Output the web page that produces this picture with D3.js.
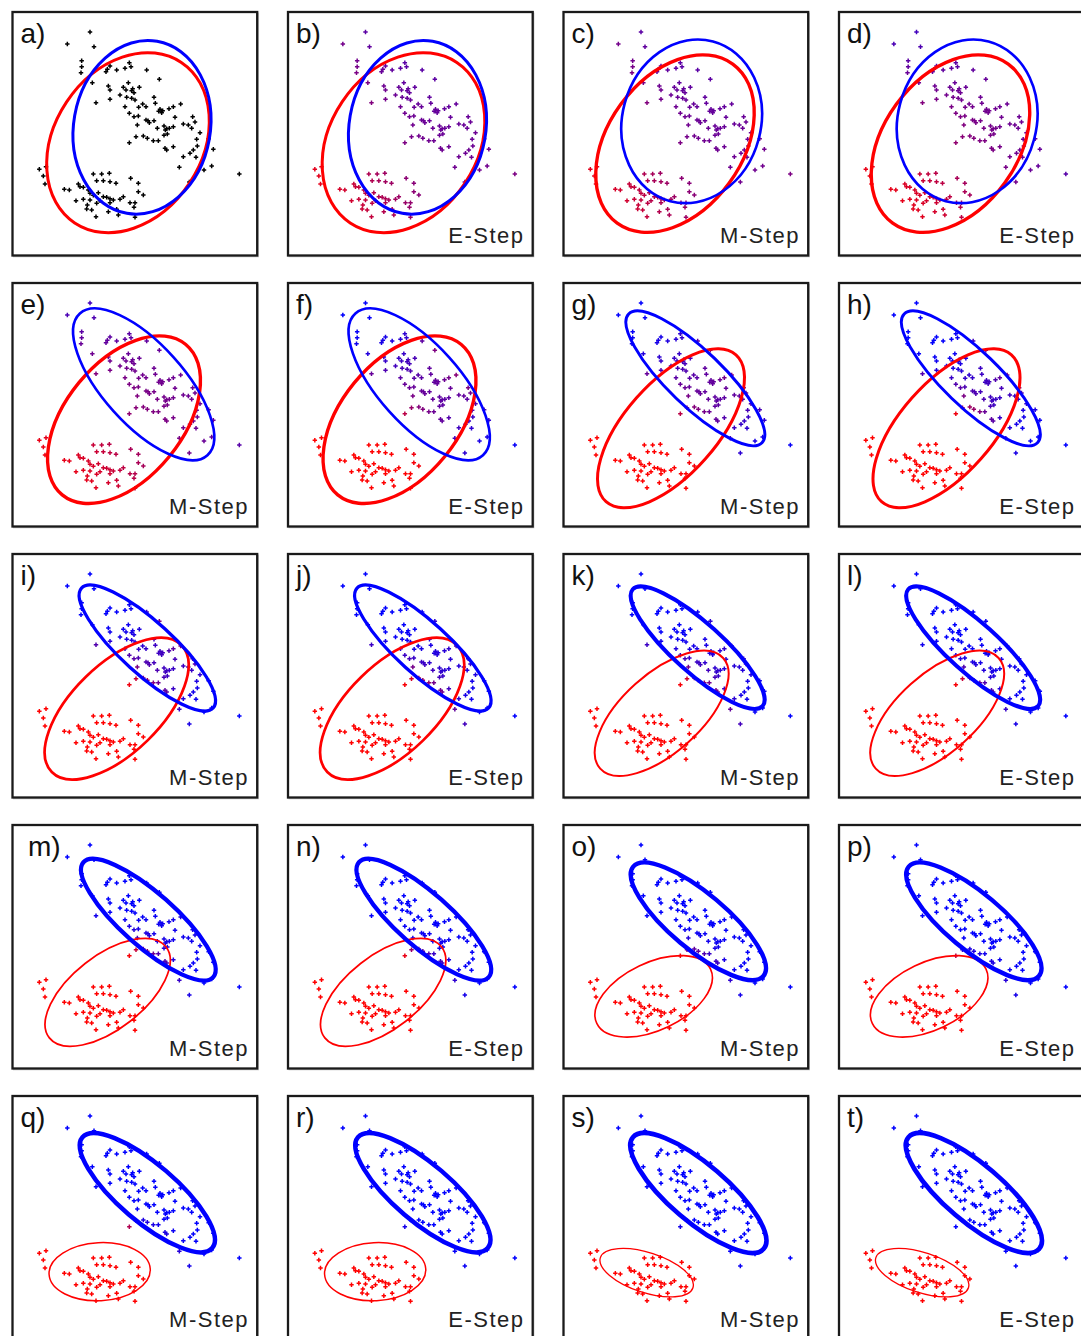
<!DOCTYPE html>
<html>
<head>
<meta charset="utf-8">
<script src="https://cdn.jsdelivr.net/npm/d3@7"></script>
<style>
  body { margin: 0; background: #fff; }
  svg { display: block; }
</style>
</head>
<body>
<div id="container"></div>
<script>
//_____ DATA _____
//>>> Observations (same in every panel), in panel units 0-750 x 0-744
const points = [
  [240,66],[172,102],[252,110],[215,152],[215,170],[213,188],[247,218],
  [288,185],[292,178],[300,168],[320,180],[345,175],[358,158],[363,170],[410,180],[448,208],
  [258,278],[295,228],[300,240],[355,218],[340,232],[348,240],[365,242],[368,236],[372,248],[388,232],
  [330,255],[350,262],[300,268],[365,265],[375,270],[398,282],[386,292],[408,290],[432,262],[436,280],
  [450,298],[455,308],[458,302],[446,304],[477,296],[490,290],[512,282],
  [345,290],[358,310],[372,320],[385,318],[408,330],[418,338],[414,332],[432,332],[442,355],[462,348],
  [466,360],[472,372],[470,356],[478,355],[490,350],[495,322],[520,342],[535,345],[548,320],[555,336],
  [382,345],[378,380],[400,378],[412,385],[430,392],[445,392],[462,376],[358,398],
  [465,415],[470,420],[490,410],[520,440],[540,430],[550,420],[558,442],[562,408],[560,388],[570,368],
  [545,355],[596,386],[610,418],[605,468],[582,480],[508,472],[688,492],[538,516],
  [88,478],[108,470],[100,498],[105,522],[163,538],[178,540],[205,522],[210,530],[220,532],[235,540],
  [250,492],[275,492],[298,490],[280,512],[260,512],[300,515],[318,520],[240,550],[250,556],[265,548],
  [280,560],[290,562],[300,566],[310,570],[330,568],[340,560],[362,505],[385,520],[385,545],[400,555],
  [198,572],[220,568],[240,570],[232,585],[230,597],[245,600],[260,580],[270,572],[300,578],[295,605],
  [320,598],[325,615],[360,578],[375,578],[372,592],[258,620],[375,622]
];

//>>> Panel letters and step names
const panelLetters = [ 'a', 'b', 'c', 'd', 'e', 'f', 'g', 'h', 'i', 'j',
  'k', 'l', 'm', 'n', 'o', 'p', 'q', 'r', 's', 't' ];
const stepLabels = [ '', 'E-Step', 'M-Step', 'E-Step', 'M-Step', 'E-Step', 'M-Step', 'E-Step',
  'M-Step', 'E-Step', 'M-Step', 'E-Step', 'M-Step', 'E-Step', 'M-Step', 'E-Step',
  'M-Step', 'E-Step', 'M-Step', 'E-Step' ];

//>>> Gaussian components after each M-step: [cx, cy, rx, ry, angle]
const redEllipses = [
  [354,398,289,221,-56.4],[342,401,295,201,-54],[342,416,292,175,-50.6],[330,442,294,138,-48.5],
  [320,470,272,133,-44.3],[302,484,248,118,-42],[293,508,222,110,-38],[278,520,189,101,-25.5],
  [269,533,152,87,-3],[257,536,146,60,18]
];
const blueEllipses = [
  [396,352,262,205,-80],[392,334,248,208,-75],[401,310,286,121,48],[403,292,278,83,44],
  [412,288,267,78,42.3],[410,287,262,74,42],[415,290,260,80,41.5],[412,295,255,84,40],
  [412,296,256,86,40.5],[412,297,258,86,40.5]
];
//>>> Mixing weight of the red component
const redWeights = [ 0.5, 0.56, 0.56, 0.5, 0.45, 0.33, 0.29, 0.27, 0.25, 0.22 ];


//_____ LAYOUT _____
const width = 1081;
const height = 1336;
const colStep = 275.5;
const rowStep = 271;
const fontFamily = '"Liberation Sans", Arial, sans-serif';

const x = d3.scaleLinear().domain( [ 0, 750 ] ).range( [ 0, 250 ] );
const y = d3.scaleLinear().domain( [ 0, 744 ] ).range( [ 0, 248 ] );
const strokeScale = d3.scaleLinear().domain( [ 0, 1 ] ).range( [ 0, 6 ] );

const svg = d3.select( '#container' )
  .append( 'svg' )
  .attr( 'width', width )
  .attr( 'height', height );

svg.append( 'rect' )
  .attr( 'width', width )
  .attr( 'height', height )
  .attr( 'fill', '#fff' );


//_____ HELPERS _____
//>>> Gaussian density (ellipse = 2 sigma contour)
function density ( p, e, w ) {
  const t = e[ 4 ] * Math.PI / 180;
  const dx = p[ 0 ] - e[ 0 ], dy = p[ 1 ] - e[ 1 ];
  const u = ( dx * Math.cos( t ) + dy * Math.sin( t ) ) / e[ 2 ];
  const v = ( -dx * Math.sin( t ) + dy * Math.cos( t ) ) / e[ 3 ];
  return w / ( e[ 2 ] * e[ 3 ] ) * Math.exp( -2 * ( u * u + v * v ) );
}

function pointColor ( p, k ) {
  const pr = density( p, redEllipses[ k ], redWeights[ k ] );
  const pb = density( p, blueEllipses[ k ], 1 - redWeights[ k ] );
  const r = pr / ( pr + pb );
  return d3.rgb( 255 * r, 0, 255 * ( 1 - r ) ).formatHex();
}

const symbol = d3.symbol().type( d3.symbolCross ).size( 11 );


//_____ PANELS _____
panelLetters.forEach( ( letter, i ) => {
  const col = i % 4;
  const row = Math.floor( i / 4 );
  const g = svg.append( 'g' )
    .attr( 'transform', `translate( ${10 + col * colStep}, ${10 + row * rowStep} )` );

  //>>> Frame
  g.append( 'rect' )
    .attr( 'x', 3.6 ).attr( 'y', 3.2 )
    .attr( 'width', 244.7 ).attr( 'height', 243.5 )
    .attr( 'fill', 'none' )
    .attr( 'stroke', '#c8c8c8' )
    .attr( 'stroke-width', 1.2 );
  g.append( 'rect' )
    .attr( 'x', 2.5 ).attr( 'y', 2 )
    .attr( 'width', 244.7 ).attr( 'height', 243.5 )
    .attr( 'fill', '#fff' )
    .attr( 'stroke', '#1a1a1a' )
    .attr( 'stroke-width', 2.3 );

  //>>> Points
  const colorSet = i === 0 ? -1 : Math.floor( ( i - 1 ) / 2 );
  g.selectAll( '.pt' )
    .data( points )
    .enter().append( 'path' )
    .attr( 'class', 'pt' )
    .attr( 'd', symbol )
    .attr( 'transform', d => `translate( ${x( d[ 0 ] )}, ${y( d[ 1 ] )} )` )
    .attr( 'fill', d => colorSet < 0 ? '#000' : pointColor( d, colorSet ) );

  //>>> Ellipses
  const k = Math.floor( i / 2 );
  [ [ redEllipses[ k ], '#ff0000', redWeights[ k ] ],
    [ blueEllipses[ k ], '#0000ff', 1 - redWeights[ k ] ] ].forEach( ( [ e, color, w ] ) => {
    g.append( 'ellipse' )
      .attr( 'transform', `translate( ${x( e[ 0 ] )}, ${y( e[ 1 ] )} ) rotate( ${e[ 4 ]} )` )
      .attr( 'rx', x( e[ 2 ] ) - x( 0 ) )
      .attr( 'ry', y( e[ 3 ] ) - y( 0 ) )
      .attr( 'fill', 'none' )
      .attr( 'stroke', color )
      .attr( 'stroke-width', strokeScale( w ) );
  } );

  //>>> Letter
  g.append( 'text' )
    .attr( 'x', letter === 'm' ? 18 : 10.5 )
    .attr( 'y', 33 )
    .style( 'font-family', fontFamily )
    .style( 'font-size', '28px' )
    .style( 'fill', '#111' )
    .text( letter + ')' );

  //>>> Step label
  if ( stepLabels[ i ] ) {
    g.append( 'text' )
      .attr( 'x', 239 )
      .attr( 'y', 233 )
      .attr( 'text-anchor', 'end' )
      .style( 'font-family', fontFamily )
      .style( 'font-size', '22px' )
      .style( 'letter-spacing', '1.5px' )
      .style( 'fill', '#222' )
      .text( stepLabels[ i ] );
  }
} );
</script>
</body>
</html>
